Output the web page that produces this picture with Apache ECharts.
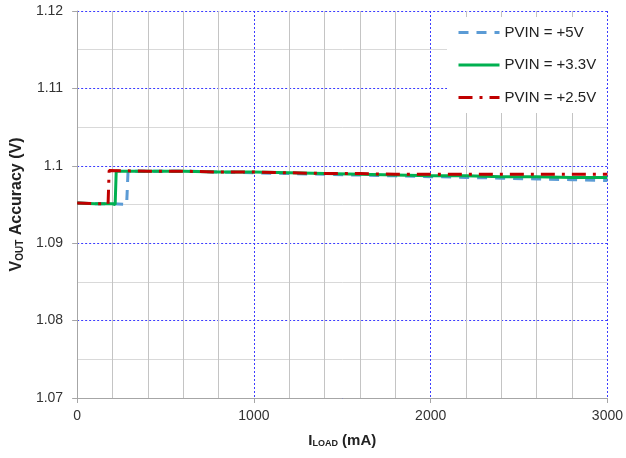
<!DOCTYPE html>
<html>
<head>
<meta charset="utf-8">
<script src="https://cdn.jsdelivr.net/npm/echarts@6/dist/echarts.min.js"></script>
<style>html,body{margin:0;padding:0;background:#fff}#c{width:626px;height:458px}</style>
</head>
<body>
<div id="c"></div>
<script>
const seriesNames = ['PVIN = +5V', 'PVIN = +3.3V', 'PVIN = +2.5V'];
const xTicks = [0, 1000, 2000, 3000];
const yTicks = [1.07, 1.08, 1.09, 1.1, 1.11, 1.12];

const x5V = [0, 100, 200, 280, 288, 400, 600, 800, 1000, 1200, 1400, 1600, 1800, 2000, 2200, 2400, 2600, 2800, 3000];
const y5V = [1.0952, 1.0951, 1.0951, 1.0950, 1.0993, 1.0993, 1.0993, 1.0992, 1.0991, 1.0990, 1.0989, 1.0988, 1.0987, 1.0986, 1.0985, 1.0984, 1.0983, 1.0982, 1.0981];

const x33V = [0, 100, 200, 215, 221, 400, 600, 800, 1000, 1200, 1400, 1600, 1800, 2000, 2200, 2400, 2600, 2800, 3000];
const y33V = [1.0952, 1.0951, 1.0951, 1.0950, 1.0993, 1.0993, 1.0993, 1.0992, 1.0992, 1.0991, 1.0990, 1.0989, 1.0988, 1.0987, 1.0987, 1.0986, 1.0986, 1.0985, 1.0985];

const x25V = [0, 100, 175, 181, 400, 600, 800, 1000, 1200, 1400, 1600, 1800, 2000, 2200, 2400, 2600, 2800, 3000];
const y25V = [1.0952, 1.0951, 1.0951, 1.0994, 1.0993, 1.0993, 1.0992, 1.0992, 1.0991, 1.0990, 1.0990, 1.0989, 1.0989, 1.0989, 1.0989, 1.0989, 1.0989, 1.0989];

function pairs(xs, ys) { return xs.map((x, i) => [x, ys[i]]); }

const FONT = 'Liberation Sans';
const chart = echarts.init(document.getElementById('c'), null, {renderer: 'canvas'});
chart.setOption({
  animation: false,
  backgroundColor: '#fff',
  textStyle: {fontFamily: FONT},
  grid: {left: 76, right: 17, top: 11, bottom: 60, containLabel: false},
  legend: {
    orient: 'vertical',
    left: 447, top: 17,
    padding: [8, 10, 8, 10],
    backgroundColor: '#fff',
    itemWidth: 41, itemHeight: 14, itemGap: 17.5,
    itemStyle: {opacity: 0},
    lineStyle: {width: 3},
    textStyle: {fontFamily: FONT, fontSize: 15, color: '#222'},
    data: seriesNames
  },
  xAxis: {
    type: 'value', min: xTicks[0], max: xTicks[xTicks.length - 1], interval: 1000,
    name: '{b|I}{s|LOAD}{b| (mA)}', nameLocation: 'middle', nameGap: 34,
    nameTextStyle: {rich: {
      b: {fontFamily: FONT, fontSize: 15, fontWeight: 'bold', color: '#222', lineHeight: 18},
      s: {fontFamily: FONT, fontSize: 9, fontWeight: 'bold', color: '#222', lineHeight: 18, padding: [6, 0, 0, 0]}
    }},
    axisLine: {show: true, lineStyle: {color: '#a6a6a6', width: 1}},
    axisTick: {show: true, length: 5, lineStyle: {color: '#a6a6a6'}},
    axisLabel: {fontFamily: FONT, fontSize: 14, color: '#333', margin: 11,
      formatter: v => String(v)},
    splitLine: {show: true, lineStyle: {color: '#3b3bff', width: 1, type: [2, 2]}},
    minorTick: {show: false, splitNumber: 5},
    minorSplitLine: {show: true, lineStyle: {color: '#c4c4c4', width: 1}}
  },
  yAxis: {
    type: 'value', min: yTicks[0], max: yTicks[yTicks.length - 1], interval: 0.01,
    name: '{b|V}{s|OUT}{b| Accuracy (V)}', nameLocation: 'middle', nameGap: 46,
    nameTextStyle: {rich: {
      b: {fontFamily: FONT, fontSize: 16, fontWeight: 'bold', color: '#222', lineHeight: 20},
      s: {fontFamily: FONT, fontSize: 10, fontWeight: 'bold', color: '#222', lineHeight: 20, padding: [7, 0, 0, 0]}
    }},
    axisLine: {show: true, lineStyle: {color: '#a6a6a6', width: 1}},
    axisTick: {show: true, length: 5, lineStyle: {color: '#a6a6a6'}},
    axisLabel: {fontFamily: FONT, fontSize: 14, color: '#333', margin: 14,
      formatter: v => String(+v.toFixed(2))},
    splitLine: {show: true, lineStyle: {color: '#3b3bff', width: 1, type: [2, 2]}},
    minorTick: {show: false, splitNumber: 2},
    minorSplitLine: {show: true, lineStyle: {color: '#d9d9d9', width: 1}}
  },
  series: [
    {name: seriesNames[0], type: 'line', showSymbol: false, symbol: 'none', data: pairs(x5V, y5V),
      color: '#5b9bd5', lineStyle: {color: '#5b9bd5', width: 3, type: [10, 8]}},
    {name: seriesNames[1], type: 'line', showSymbol: false, symbol: 'none', data: pairs(x33V, y33V),
      color: '#00b050', lineStyle: {color: '#00b050', width: 3, type: 'solid'}},
    {name: seriesNames[2], type: 'line', showSymbol: false, symbol: 'none', data: pairs(x25V, y25V),
      color: '#c00000', lineStyle: {color: '#c00000', width: 3, type: [14, 7, 3, 7]}}
  ]
});
</script>
</body>
</html>
